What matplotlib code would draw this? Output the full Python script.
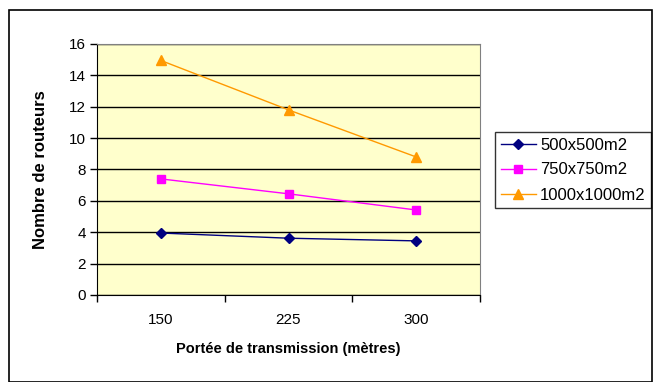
import matplotlib
matplotlib.use("Agg")
import matplotlib.pyplot as plt
from matplotlib.patches import Rectangle

categories = ["150", "225", "300"]
s500 = [3.95, 3.62, 3.45]
s750 = [7.4, 6.45, 5.42]
s1000 = [14.95, 11.8, 8.8]
series_names = ["500x500m2", "750x750m2", "1000x1000m2"]

plt.rcParams['font.family'] = ['Liberation Sans', 'DejaVu Sans']

fig = plt.figure(figsize=(6.53, 3.82), dpi=100)
fig.patch.set_facecolor('white')
fig.patches.append(Rectangle((9/653, 0), 643/653, 1 - 10/382, transform=fig.transFigure,
                             fill=False, edgecolor='black', linewidth=1.2))

ax = fig.add_axes([97/653, 1 - 295/382, (480 - 97)/653, (295 - 44)/382])
ax.set_facecolor('#FFFFCC')
x = list(range(len(categories)))
ax.plot(x, s500, color='#000080', marker='D', markersize=5, linewidth=1, label=series_names[0])
ax.plot(x, s750, color='#FF00FF', marker='s', markersize=6, linewidth=1, label=series_names[1])
ax.plot(x, s1000, color='#FF9900', marker='^', markersize=7, linewidth=1, label=series_names[2])

ax.set_xlim(-0.5, 2.5)
ax.set_ylim(0, 16)
ax.set_yticks(range(0, 17, 2))
ax.set_xticks([-0.5, 0.5, 1.5, 2.5])
ax.set_xticklabels([])
ax.set_xticks(x, minor=True)
ax.set_xticklabels(categories, minor=True)
ax.tick_params(axis='x', which='minor', length=0, pad=13, labelsize=11)
ax.tick_params(axis='x', which='major', length=5, direction='out', width=1)
ax.tick_params(axis='y', length=5, direction='out', width=1, labelsize=11, pad=3)
ax.yaxis.grid(True, color='black', linewidth=1)
ax.set_axisbelow(True)
for side in ['left', 'bottom']:
    ax.spines[side].set_color('black')
for side in ['top', 'right']:
    ax.spines[side].set_color('#808080')

ax.set_xlabel("Portée de transmission (mètres)", fontsize=10.5, fontweight='bold', labelpad=11)
ax.set_ylabel("Nombre de routeurs", fontsize=12, fontweight='bold', labelpad=15)

leg = ax.legend(loc='center left', bbox_to_anchor=(495/653, 1 - 170/382), bbox_transform=fig.transFigure,
                frameon=True, fancybox=False, edgecolor='black', fontsize=12,
                handlelength=2.1, handletextpad=0.25, borderpad=0.35, labelspacing=0.6,
                borderaxespad=0)
leg.get_frame().set_linewidth(1)

fig.savefig("out.png", dpi=100)
